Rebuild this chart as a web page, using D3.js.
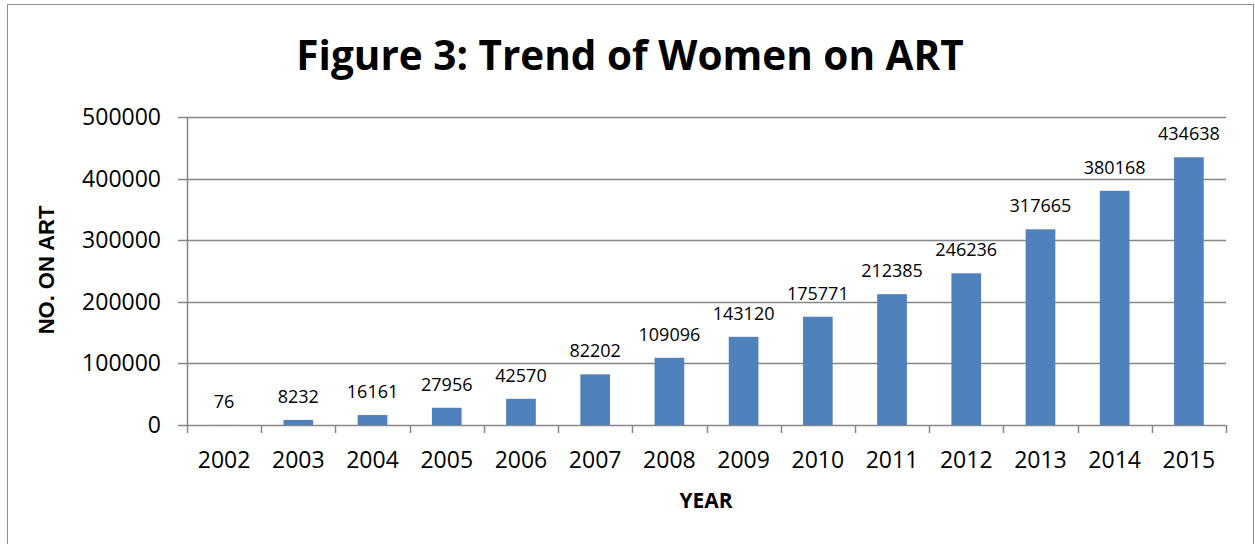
<!DOCTYPE html>
<html>
<head>
<meta charset="utf-8">
<script src="https://cdn.jsdelivr.net/npm/d3@7.9.0/dist/d3.min.js"></script>
<style>
  body { margin: 0; background: #fff; }
  svg { display: block; }
</style>
</head>
<body>
<div id="chart"></div>
<script>
// chart values
const years = ["2002", "2003", "2004", "2005", "2006", "2007", "2008", "2009", "2010", "2011", "2012", "2013", "2014", "2015"];
const womenOnArt = [76, 8232, 16161, 27956, 42570, 82202, 109096, 143120, 175771, 212385, 246236, 317665, 380168, 434638];
const yTickValues = [0, 100000, 200000, 300000, 400000, 500000];

const CONFIG = {
  WIDTH: 1255,
  HEIGHT: 544,
  PLOT: { left: 187, right: 1226, top: 117, bottom: 425 },
  BAR: "#4F81BD",
  GRID: "#878787"
};

const svg = d3.select("#chart").append("svg")
  .attr("width", CONFIG.WIDTH)
  .attr("height", CONFIG.HEIGHT);

// outer chart border
svg.append("rect")
  .attr("x", 7.5).attr("y", 4.5)
  .attr("width", 1246).attr("height", 560)
  .attr("fill", "none")
  .attr("stroke", "#8c8c8c")
  .attr("stroke-width", 1);

const x = d3.scaleBand()
  .domain(years)
  .range([CONFIG.PLOT.left, CONFIG.PLOT.right])
  .paddingInner(0.6)
  .paddingOuter(0.3);

const xBand = d3.scaleBand()
  .domain(years)
  .range([CONFIG.PLOT.left, CONFIG.PLOT.right]);

const y = d3.scaleLinear()
  .domain([0, 500000])
  .range([CONFIG.PLOT.bottom, CONFIG.PLOT.top]);

// gridlines
svg.append("g")
  .selectAll("line")
  .data(yTickValues)
  .join("line")
  .attr("x1", CONFIG.PLOT.left - 9)
  .attr("x2", CONFIG.PLOT.right)
  .attr("y1", d => Math.round(y(d)) + 0.5)
  .attr("y2", d => Math.round(y(d)) + 0.5)
  .attr("stroke", CONFIG.GRID)
  .attr("stroke-width", 1.5);

// y axis labels
svg.append("g")
  .selectAll("text")
  .data(yTickValues)
  .join("text")
  .attr("x", 161)
  .attr("y", d => y(d) + 8)
  .attr("text-anchor", "end")
  .attr("font-family", "Open Sans")
  .attr("font-size", 23)
  .attr("fill", "#000")
  .text(d => d);

// bars
svg.append("g")
  .selectAll("rect")
  .data(womenOnArt)
  .join("rect")
  .attr("x", (d, i) => x(years[i]))
  .attr("width", x.bandwidth())
  .attr("y", d => y(d))
  .attr("height", d => y(0) - y(d))
  .attr("fill", CONFIG.BAR);

// data labels
svg.append("g")
  .selectAll("text")
  .data(womenOnArt)
  .join("text")
  .attr("x", (d, i) => x(years[i]) + x.bandwidth() / 2)
  .attr("y", d => Math.min(y(d) - 17, 408))
  .attr("text-anchor", "middle")
  .attr("font-family", "Open Sans")
  .attr("font-size", 18)
  .attr("fill", "#000")
  .text(d => d);

// y axis line
svg.append("line")
  .attr("x1", CONFIG.PLOT.left + 0.5).attr("x2", CONFIG.PLOT.left + 0.5)
  .attr("y1", CONFIG.PLOT.top).attr("y2", CONFIG.PLOT.bottom)
  .attr("stroke", CONFIG.GRID)
  .attr("stroke-width", 1.5);

// x axis ticks at band edges
const edges = years.map(d => xBand(d)).concat([CONFIG.PLOT.right]);
svg.append("g")
  .selectAll("line")
  .data(edges)
  .join("line")
  .attr("x1", d => Math.round(d) + 0.5)
  .attr("x2", d => Math.round(d) + 0.5)
  .attr("y1", CONFIG.PLOT.bottom)
  .attr("y2", CONFIG.PLOT.bottom + 8)
  .attr("stroke", CONFIG.GRID)
  .attr("stroke-width", 1.5);

// x labels
svg.append("g")
  .selectAll("text")
  .data(years)
  .join("text")
  .attr("x", d => xBand(d) + xBand.bandwidth() / 2)
  .attr("y", 468)
  .attr("text-anchor", "middle")
  .attr("font-family", "Open Sans")
  .attr("font-size", 23)
  .attr("fill", "#000")
  .text(d => d);

// title
svg.append("text")
  .attr("x", 630)
  .attr("y", 70)
  .attr("text-anchor", "middle")
  .attr("font-family", "Open Sans")
  .attr("font-weight", "bold")
  .attr("font-size", 40.5)
  .attr("fill", "#000")
  .text("Figure 3: Trend of Women on ART");

// axis titles
svg.append("text")
  .attr("transform", "translate(54,270) rotate(-90)")
  .attr("text-anchor", "middle")
  .attr("font-family", "Liberation Sans")
  .attr("font-weight", "bold")
  .attr("font-size", 22)
  .attr("fill", "#000")
  .text("NO. ON ART");

svg.append("text")
  .attr("x", 706)
  .attr("y", 508)
  .attr("text-anchor", "middle")
  .attr("font-family", "Open Sans")
  .attr("font-weight", "bold")
  .attr("font-size", 21)
  .attr("fill", "#000")
  .text("YEAR");
</script>
</body>
</html>
